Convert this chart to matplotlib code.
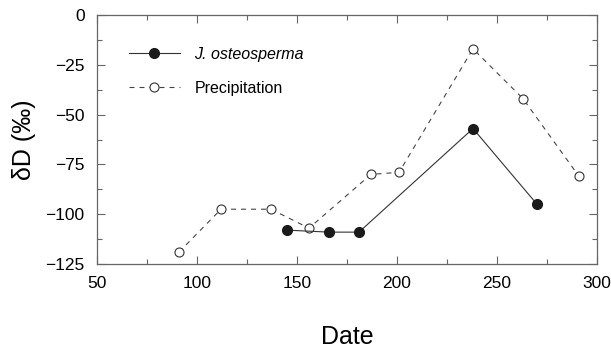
import matplotlib
matplotlib.use('Agg')
import matplotlib.pyplot as plt
from matplotlib.ticker import MultipleLocator

plt.rcParams['font.family'] = ['Liberation Sans', 'DejaVu Sans']

# day of year and deltaD (per mil)
juni_day = [145, 166, 181, 238, 270]
juni_dD = [-108, -109, -109, -57, -95]
prec_day = [91, 112, 137, 156, 187, 201, 238, 263, 291]
prec_dD = [-119, -97.5, -97.5, -107, -80, -79, -17, -42, -81]

fig = plt.figure(figsize=(6.11, 3.52), dpi=100)
ax = fig.add_axes([97/611, 1 - 264/352, 500/611, 249/352])

ax.plot(prec_day, prec_dD, color='#444444', lw=0.8, dashes=(4.5, 4.5),
        marker='o', ms=6.5, mfc='white', mec='#333333', mew=0.8,
        label='Precipitation', zorder=2)
ax.plot(juni_day, juni_dD, color='#333333', lw=0.8,
        marker='o', ms=7, mfc='#1a1a1a', mec='#1a1a1a',
        label='J. osteosperma', zorder=3)

ax.set_xlim(50, 300)
ax.set_ylim(-125, 0)
ax.xaxis.set_major_locator(MultipleLocator(50))
ax.xaxis.set_minor_locator(MultipleLocator(25))
ax.yaxis.set_major_locator(MultipleLocator(25))
ax.yaxis.set_minor_locator(MultipleLocator(12.5))
ax.tick_params(which='both', direction='in', top=True, right=True,
               color='#666666', width=0.8)
ax.tick_params(which='major', length=6, labelsize=12.5, pad=9)
ax.tick_params(which='minor', length=3.5)
for s in ax.spines.values():
    s.set_color('#666666')
    s.set_linewidth(0.9)

ax.set_xlabel('Date', fontsize=18, labelpad=24)
ax.set_ylabel('δD (‰)', fontsize=18, labelpad=7)

h, l = ax.get_legend_handles_labels()
leg = ax.legend(h[::-1], l[::-1], loc='upper left', bbox_to_anchor=(0.035, 0.93),
                frameon=False, fontsize=11.5, handlelength=3.2,
                handletextpad=0.9, labelspacing=1.2)
leg.get_texts()[0].set_fontstyle('italic')

fig.savefig('out.png', dpi=100)
